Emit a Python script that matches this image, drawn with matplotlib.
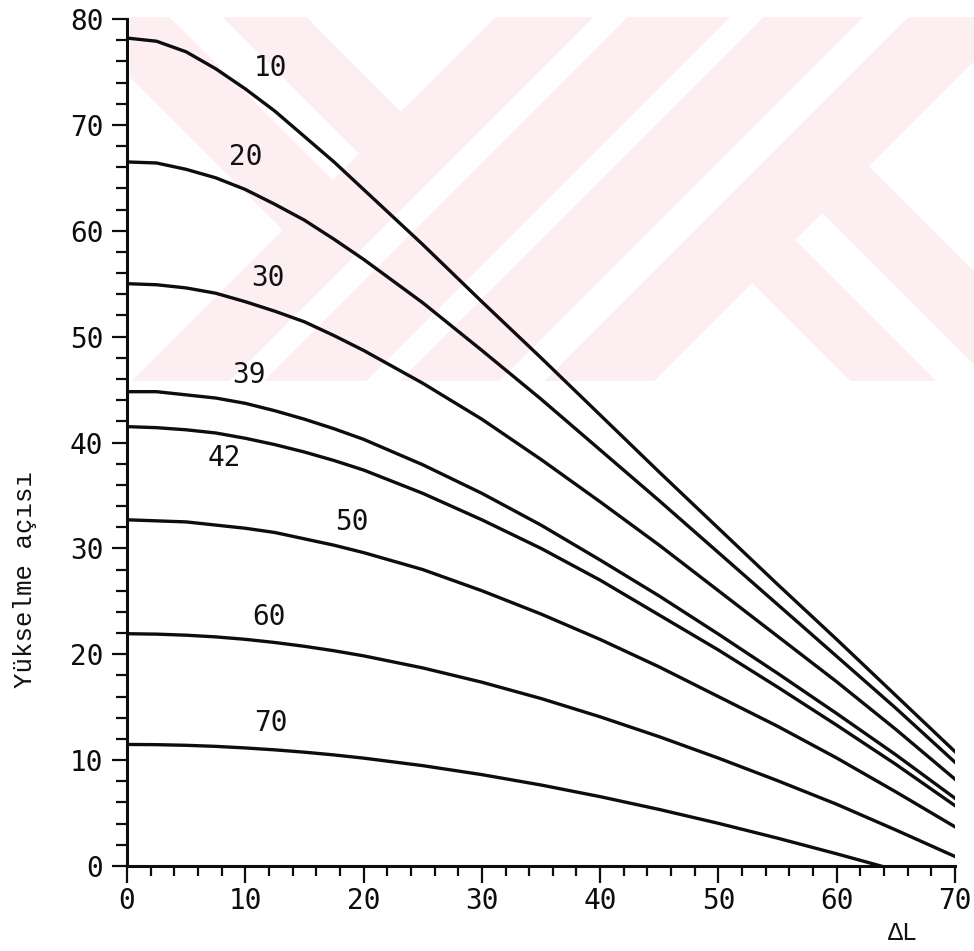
import numpy as np
import matplotlib
matplotlib.use("Agg")
import matplotlib.pyplot as plt
from matplotlib import font_manager as fm
from matplotlib.ticker import MultipleLocator

# Longitude difference between station and satellite (degrees)
delta_L = [0, 2.5, 5, 7.5, 10, 12.5, 15, 17.5, 20, 25, 30, 35, 40, 45, 50, 55, 60, 65, 70]

# Station latitudes, one curve each
latitudes = [10, 20, 30, 39, 42, 50, 60, 70]

# Elevation angle (degrees) for each latitude along delta_L
el_10 = [78.2, 77.9, 76.9, 75.3, 73.4, 71.3, 68.9, 66.5, 63.9, 58.7, 53.3, 48.0, 42.6, 37.2, 31.9, 26.6, 21.4, 16.1, 10.8]
el_20 = [66.5, 66.4, 65.8, 65.0, 63.9, 62.5, 61.0, 59.2, 57.3, 53.2, 48.7, 44.1, 39.3, 34.5, 29.6, 24.7, 19.8, 14.9, 9.8]
el_30 = [55.0, 54.9, 54.6, 54.1, 53.3, 52.4, 51.4, 50.1, 48.7, 45.6, 42.2, 38.4, 34.4, 30.3, 26.0, 21.7, 17.4, 12.9, 8.2]
el_39 = [44.8, 44.8, 44.5, 44.2, 43.7, 43.0, 42.2, 41.3, 40.3, 37.9, 35.2, 32.2, 28.9, 25.5, 21.9, 18.2, 14.4, 10.5, 6.4]
el_42 = [41.5, 41.4, 41.2, 40.9, 40.4, 39.8, 39.1, 38.3, 37.4, 35.2, 32.7, 30.0, 27.0, 23.7, 20.4, 16.9, 13.3, 9.6, 5.7]
el_50 = [32.7, 32.6, 32.5, 32.2, 31.9, 31.5, 30.9, 30.3, 29.6, 28.0, 26.0, 23.8, 21.4, 18.8, 16.0, 13.2, 10.2, 7.0, 3.7]
el_60 = [21.94, 21.90, 21.80, 21.64, 21.41, 21.11, 20.75, 20.33, 19.85, 18.71, 17.36, 15.82, 14.09, 12.21, 10.19, 8.06, 5.83, 3.4, 0.9]
el_70 = [11.48, 11.46, 11.40, 11.30, 11.15, 10.97, 10.75, 10.49, 10.19, 9.48, 8.63, 7.65, 6.55, 5.34, 4.03, 2.63, 1.15, -0.39, -1.97]

series = [el_10, el_20, el_30, el_39, el_42, el_50, el_60, el_70]

# Where each latitude number sits (delta_L, elevation)
label_x = [12.1, 10.0, 11.9, 10.3, 8.2, 19.0, 12.0, 12.2]
label_y = [75.4, 67.0, 55.5, 46.4, 38.5, 32.5, 23.5, 13.5]

x_ticks = [0, 10, 20, 30, 40, 50, 60, 70]
y_ticks = [0, 10, 20, 30, 40, 50, 60, 70, 80]

# Typewriter face for the axis captions, with a fallback
installed = {f.name for f in fm.fontManager.ttflist}
typewriter = [n for n in ("Liberation Mono", "Nimbus Mono PS", "FreeMono",
                          "Courier New", "Courier") if n in installed]
serif_mono = typewriter + ["DejaVu Sans Mono"]
mono = ["DejaVu Sans Mono"]

W, H = 974, 951
fig = plt.figure(figsize=(W / 100, H / 100), dpi=100)
fig.patch.set_facecolor("white")

# Pale striped emblem printed behind the upper part of the plot
yy, xx = np.mgrid[0:H, 0:W]
u = xx + yy
v = xx - yy
inside = (xx >= 130) & (yy >= 17) & (yy <= 380)
zone_a = u < 512
zone_c = u >= 1035
zone_b = ~zone_a & ~zone_c
blank = (
    (zone_a & ((v < 53) | ((v >= 153) & (v < 206)) | (v >= 290)))
    | (zone_b & (((u >= 610) & (u < 644)) | ((u >= 747) & (u < 780)) | ((u >= 880) & (u < 925))))
    | (zone_c & ((v < 470) | ((v >= 556) & (v < 610)) | (v >= 703)))
)
tint = inside & ~blank
bg = np.ones((H, W, 4))
bg[tint, 0] = 253 / 255
bg[tint, 1] = 238 / 255
bg[tint, 2] = 241 / 255
fig.figimage(bg, xo=0, yo=0, origin="upper", zorder=0)

ax = fig.add_axes([127 / W, 1 - 866 / H, (955 - 127) / W, (866 - 19) / H], zorder=1)
ax.set_facecolor("none")

for vals in series:
    ax.plot(delta_L, vals, color="#0d0d0d", lw=2.4, solid_joinstyle="round")

for lat, lx, ly in zip(latitudes, label_x, label_y):
    ax.text(lx, ly, str(lat), ha="center", va="center", fontsize=20,
            family=mono, color="#111111")

ax.set_xlim(0, 70)
ax.set_ylim(0, 80)
ax.set_xticks(x_ticks)
ax.set_yticks(y_ticks)
ax.set_xticklabels([str(t) for t in x_ticks], family=mono, fontsize=20)
ax.set_yticklabels([str(t) for t in y_ticks], family=mono, fontsize=20)
ax.xaxis.set_minor_locator(MultipleLocator(2))
ax.yaxis.set_minor_locator(MultipleLocator(2))

for side in ("top", "right"):
    ax.spines[side].set_visible(False)
for side in ("left", "bottom"):
    ax.spines[side].set_linewidth(2.2)
    ax.spines[side].set_color("#0d0d0d")

ax.tick_params(axis="y", which="major", direction="out", length=11, width=1.6,
               pad=6, colors="#0d0d0d")
ax.tick_params(axis="y", which="minor", direction="out", length=8, width=1.6,
               colors="#0d0d0d")
ax.tick_params(axis="x", which="major", direction="out", length=12, width=1.6,
               pad=3, colors="#0d0d0d")
ax.tick_params(axis="x", which="minor", direction="out", length=7, width=1.6,
               colors="#0d0d0d")

fig.text(25 / W, 1 - 579 / H, "Yükselme açısı", rotation=90, ha="center",
         va="center", fontsize=18.5, family=serif_mono, color="#111111")
fig.text(903 / W, 1 - 933 / H, "ΔL", ha="center", va="center", fontsize=18,
         family=serif_mono, color="#111111")

fig.savefig("out.png", dpi=100, facecolor="white")
